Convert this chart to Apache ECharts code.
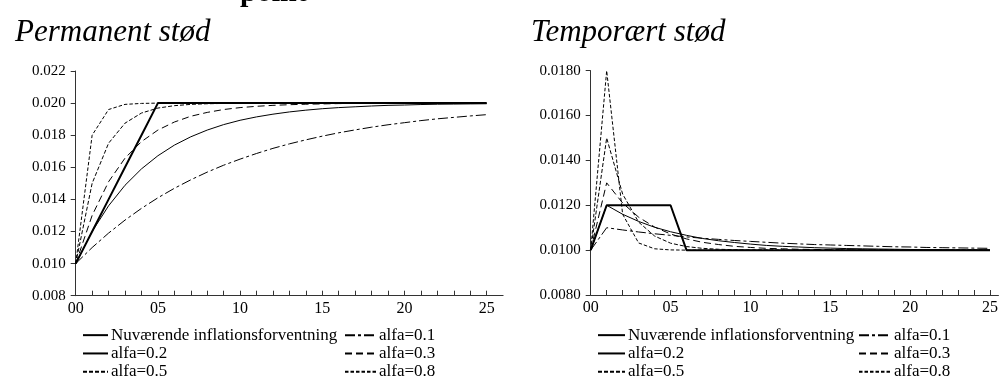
<!DOCTYPE html>
<html>
<head>
<meta charset="utf-8">
<script src="https://cdn.jsdelivr.net/npm/echarts@6/dist/echarts.min.js"></script>
<style>html,body{margin:0;padding:0;background:#fff}#c{width:1001px;height:381px}</style>
</head>
<body>
<div id="c"></div>
<script>
// ---- data ----
const periods = [0,1,2,3,4,5,6,7,8,9,10,11,12,13,14,15,16,17,18,19,20,21,22,23,24,25];
const xTickValues = [0,1,2,3,4,5,6,7,8,9,10,11,12,13,14,15,16,17,18,19,20,21,22,23,24,25];
const xLabelValues = [0,5,10,15,20,25];
const seriesNames = ['Nuværende inflationsforventning','alfa=0.1','alfa=0.2','alfa=0.3','alfa=0.5','alfa=0.8'];

// Permanent stød
const permNuv  = [0.0100,0.0120,0.0140,0.0160,0.0180,0.0200,0.0200,0.0200,0.0200,0.0200,0.0200,0.0200,0.0200,0.0200,0.0200,0.0200,0.0200,0.0200,0.0200,0.0200,0.0200,0.0200,0.0200,0.0200,0.0200,0.0200];
const permA01  = [0.0100,0.0110,0.01190,0.01271,0.01344,0.01410,0.01469,0.01522,0.01570,0.01613,0.01651,0.01686,0.01718,0.01746,0.01771,0.01794,0.01815,0.01833,0.01850,0.01865,0.01878,0.01891,0.01902,0.01911,0.01920,0.01928];
const permA02  = [0.0100,0.0120,0.01360,0.01488,0.01590,0.01672,0.01738,0.01790,0.01832,0.01866,0.01893,0.01914,0.01931,0.01945,0.01956,0.01965,0.01972,0.01977,0.01982,0.01986,0.01988,0.01991,0.01993,0.01994,0.01995,0.01996];
const permA03  = [0.0100,0.0130,0.01510,0.01657,0.01760,0.01832,0.01882,0.01918,0.01942,0.01960,0.01972,0.01980,0.01986,0.01990,0.01993,0.01995,0.01997,0.01998,0.01998,0.01999,0.01999,0.01999,0.02000,0.02000,0.02000,0.02000];
const permA05  = [0.0100,0.0150,0.01750,0.01875,0.01938,0.01969,0.01984,0.01992,0.01996,0.01998,0.01999,0.02000,0.02000,0.02000,0.02000,0.02000,0.02000,0.02000,0.02000,0.02000,0.02000,0.02000,0.02000,0.02000,0.02000,0.02000];
const permA08  = [0.0100,0.0180,0.01960,0.01992,0.01998,0.02000,0.02000,0.02000,0.02000,0.02000,0.02000,0.02000,0.02000,0.02000,0.02000,0.02000,0.02000,0.02000,0.02000,0.02000,0.02000,0.02000,0.02000,0.02000,0.02000,0.02000];

// Temporært stød
const tempNuv  = [0.0100,0.0120,0.0120,0.0120,0.0120,0.0120,0.0100,0.0100,0.0100,0.0100,0.0100,0.0100,0.0100,0.0100,0.0100,0.0100,0.0100,0.0100,0.0100,0.0100,0.0100,0.0100,0.0100,0.0100,0.0100,0.0100];
const tempA01  = [0.0100,0.01100,0.01090,0.01081,0.01073,0.01066,0.01059,0.01053,0.01048,0.01043,0.01039,0.01035,0.01031,0.01028,0.01025,0.01023,0.01021,0.01019,0.01017,0.01015,0.01014,0.01012,0.01011,0.01010,0.01009,0.01008];
const tempA02  = [0.0100,0.01200,0.01160,0.01128,0.01102,0.01082,0.01066,0.01052,0.01042,0.01034,0.01027,0.01021,0.01017,0.01014,0.01011,0.01009,0.01007,0.01006,0.01005,0.01004,0.01003,0.01002,0.01002,0.01001,0.01001,0.01001];
const tempA03  = [0.0100,0.01300,0.01210,0.01147,0.01103,0.01072,0.01050,0.01035,0.01025,0.01017,0.01012,0.01008,0.01006,0.01004,0.01003,0.01002,0.01001,0.01001,0.01000,0.01000,0.01000,0.01000,0.01000,0.01000,0.01000,0.01000];
const tempA05  = [0.0100,0.01500,0.01250,0.01125,0.01063,0.01031,0.01016,0.01008,0.01004,0.01002,0.01001,0.01000,0.01000,0.01000,0.01000,0.01000,0.01000,0.01000,0.01000,0.01000,0.01000,0.01000,0.01000,0.01000,0.01000,0.01000];
const tempA08  = [0.0100,0.01800,0.01160,0.01032,0.01006,0.01001,0.01000,0.01000,0.01000,0.01000,0.01000,0.01000,0.01000,0.01000,0.01000,0.01000,0.01000,0.01000,0.01000,0.01000,0.01000,0.01000,0.01000,0.01000,0.01000,0.01000];

// ---- styles ----
const FONT = 'Liberation Serif';
const styles = [
  {width: 2, type: 'solid'},
  {width: 1, type: [10,3,3,3]},
  {width: 1, type: 'solid'},
  {width: 1, type: [7,4]},
  {width: 1, type: [4,2]},
  {width: 1, type: [3.5,2]}
];
const permData = [permNuv, permA01, permA02, permA03, permA05, permA08];
const tempData = [tempNuv, tempA01, tempA02, tempA03, tempA05, tempA08];

function pairs(arr){ return periods.map((p,i)=>[p, arr[i]]); }
function mkSeries(dataSets, idx){
  const order = [1,2,3,4,5,0];
  return order.map(k => ({
    name: seriesNames[k], type: 'line', xAxisIndex: idx, yAxisIndex: idx,
    data: pairs(dataSets[k]), symbol: 'none', showSymbol: false, animation: false,
    lineStyle: {color: '#000', width: styles[k].width, type: styles[k].type},
    itemStyle: {color: '#000'}, z: k === 0 ? 5 : 3
  }));
}
function xAxis(idx, max){
  return {
    type: 'value', gridIndex: idx, min: 0, max: max, interval: 1,
    axisLine: {show: true, onZero: false, lineStyle: {color: '#333', width: 1}},
    axisTick: {show: true, inside: true, length: 5, customValues: xTickValues, lineStyle: {color: '#333'}},
    axisLabel: {customValues: xLabelValues, color: '#000', fontFamily: FONT, fontSize: 16, margin: 5,
      formatter: v => (v < 10 ? '0' : '') + v},
    splitLine: {show: false}
  };
}
function yAxis(idx, min, max, dec){
  return {
    type: 'value', gridIndex: idx, min: min, max: max, interval: 0.002,
    axisLine: {show: true, onZero: false, lineStyle: {color: '#333', width: 1}},
    axisTick: {show: true, inside: false, length: 5, lineStyle: {color: '#333'}},
    axisLabel: {color: '#000', fontFamily: FONT, fontSize: 15, margin: 10, formatter: v => v.toFixed(dec)},
    splitLine: {show: false}
  };
}
function legend(left, names, w){
  return {
    orient: 'vertical', left: left, top: 326, height: 80, padding: 0, itemGap: 0, itemWidth: w, itemHeight: 10,
    selectedMode: false, data: names,
    itemStyle: {opacity: 0},
    textStyle: {color: '#000', fontFamily: FONT, fontSize: 17, lineHeight: 18.3, padding: [0,0,0,-2]}
  };
}

const chart = echarts.init(document.getElementById('c'), null, {renderer: 'canvas'});
chart.setOption({
  animation: false,
  title: [
    {text: 'Permanent stød', left: 10, top: 12, textStyle: {fontFamily: FONT, fontStyle: 'italic', fontWeight: 'normal', fontSize: 31, color: '#000'}},
    {text: 'Temporært stød', left: 526, top: 12, textStyle: {fontFamily: FONT, fontStyle: 'italic', fontWeight: 'normal', fontSize: 31, color: '#000'}}
  ],
  graphic: [
    {type: 'text', x: 240, y: 8, style: {text: 'point', font: 'bold 30px "Liberation Serif"', fill: '#000', verticalAlign: 'bottom'}}
  ],
  grid: [
    {left: 75.7, top: 71, width: 427.4, height: 224.7},
    {left: 590.7, top: 70.7, width: 410.3, height: 224.3}
  ],
  xAxis: [xAxis(0, 26), xAxis(1, 25.53)],
  yAxis: [yAxis(0, 0.008, 0.022, 3), yAxis(1, 0.008, 0.018, 4)],
  legend: [
    legend(82, [seriesNames[0], seriesNames[2], seriesNames[4]], 25),
    legend(344, [seriesNames[1], seriesNames[3], seriesNames[5]], 31),
    legend(597, [seriesNames[0], seriesNames[2], seriesNames[4]], 27),
    legend(858, [seriesNames[1], seriesNames[3], seriesNames[5]], 32)
  ],
  series: mkSeries(permData, 0).concat(mkSeries(tempData, 1))
});
</script>
</body>
</html>
